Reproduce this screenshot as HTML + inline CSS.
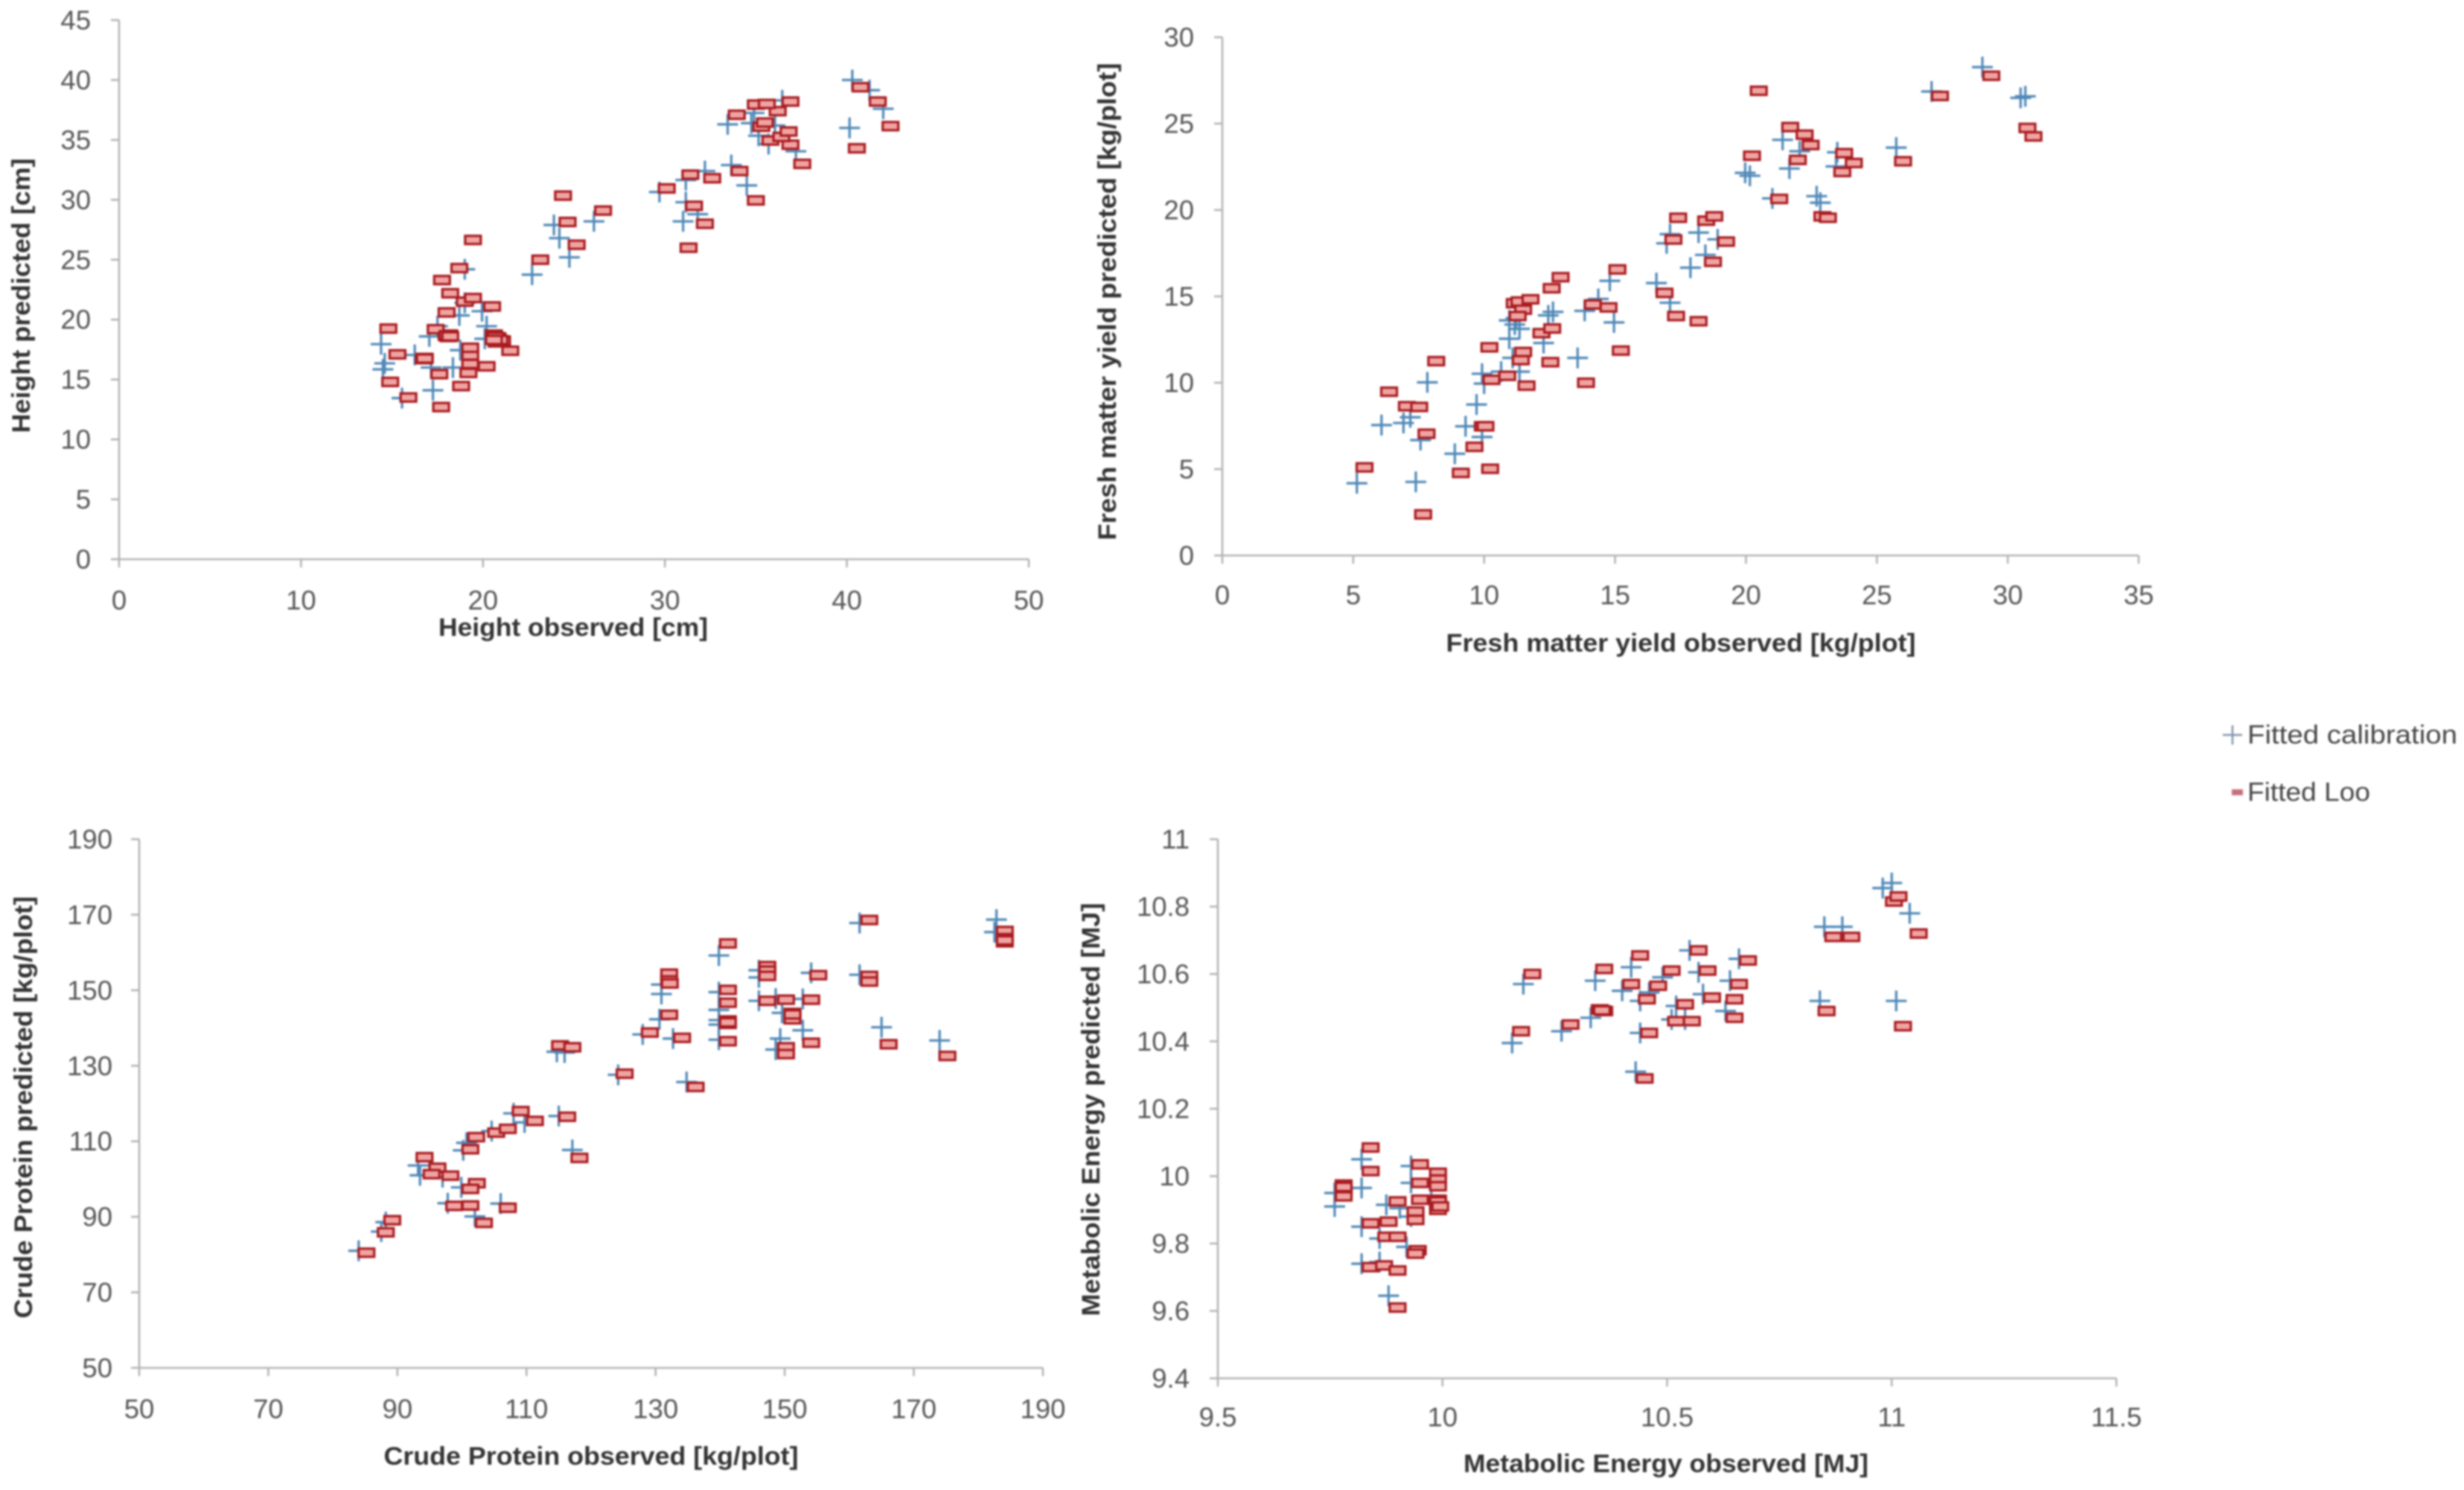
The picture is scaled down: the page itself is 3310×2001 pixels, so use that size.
<!DOCTYPE html>
<html lang="en">
<head>
<meta charset="utf-8">
<title>Observed versus predicted scatter charts</title>
<style>
html,body{margin:0;padding:0;background:#fff;}
svg{display:block;filter:blur(1.3px);}
text{font-family:"Liberation Sans",sans-serif;}
.tick{font-size:36.5px;fill:#555555;}
.title{font-size:34px;font-weight:bold;fill:#333333;}
.legend{font-size:35px;fill:#454545;}
</style>
</head>
<body>
<svg id="figure" xmlns="http://www.w3.org/2000/svg" width="3310" height="2001" viewBox="0 0 3310 2001">
  <rect x="0" y="0" width="3310" height="2001" fill="#ffffff"/>
  <g id="chart-height"></g>
  <g id="chart-fresh"></g>
  <g id="chart-protein"></g>
  <g id="chart-energy"></g>

  <text class="title" x="770" y="843" text-anchor="middle" dominant-baseline="central" textLength="362" lengthAdjust="spacingAndGlyphs">Height observed [cm]</text>
  <text class="title" transform="translate(29,397) rotate(-90)" text-anchor="middle" dominant-baseline="central" textLength="369" lengthAdjust="spacingAndGlyphs">Height predicted [cm]</text>

  <text class="title" x="2258" y="864" text-anchor="middle" dominant-baseline="central" textLength="631" lengthAdjust="spacingAndGlyphs">Fresh matter yield observed [kg/plot]</text>
  <text class="title" transform="translate(1488,405) rotate(-90)" text-anchor="middle" dominant-baseline="central" textLength="641" lengthAdjust="spacingAndGlyphs">Fresh matter yield predicted [kg/plot]</text>

  <text class="title" x="794" y="1956" text-anchor="middle" dominant-baseline="central" textLength="557" lengthAdjust="spacingAndGlyphs">Crude Protein observed [kg/plot]</text>
  <text class="title" transform="translate(32,1487) rotate(-90)" text-anchor="middle" dominant-baseline="central" textLength="567" lengthAdjust="spacingAndGlyphs">Crude Protein predicted [kg/plot]</text>

  <text class="title" x="2238" y="1966" text-anchor="middle" dominant-baseline="central" textLength="544" lengthAdjust="spacingAndGlyphs">Metabolic Energy observed [MJ]</text>
  <text class="title" transform="translate(1466,1490) rotate(-90)" text-anchor="middle" dominant-baseline="central" textLength="555" lengthAdjust="spacingAndGlyphs">Metabolic Energy predicted [MJ]</text>

  <g>
    <g>
      <path d="M2986 987H3012M2999 974V1000" stroke="#7f93ad" stroke-width="2.5" fill="none"/>
      <text class="legend" x="3019" y="987" dominant-baseline="central" textLength="282" lengthAdjust="spacingAndGlyphs">Fitted calibration</text>
    </g>
    <g>
      <rect x="2998" y="1060" width="15" height="8" fill="#c8707c"/>
      <text class="legend" x="3019" y="1064" dominant-baseline="central" textLength="165" lengthAdjust="spacingAndGlyphs">Fitted Loo</text>
    </g>
  </g>
</svg>
<script>
// Height chart
const heightXTicks = [0,10,20,30,40,50];
const heightYTicks = [0,5,10,15,20,25,30,35,40,45];
const heightCalObserved = [14.4,14.6,14.5,15.55,17.25,16.25,17.05,17.15,17.5,18.35,18.75,18.7,19.0,20.2,19.95,20.1,19.0,22.7,24.75,24.2,23.9,26.1,29.7,31.0,31.15,31.8,31.15,32.2,33.65,34.5,33.45,34.9,34.75,35.15,36.05,36.45,37.2,40.15,40.3,41.25,42.0,35.7];
const heightCalPredicted = [17.95,16.35,15.85,13.45,14.1,17.05,18.6,16.0,19.45,16.0,17.45,20.35,21.4,19.45,20.7,18.4,24.2,23.75,25.2,26.8,27.9,28.2,30.65,28.2,29.8,28.8,31.65,32.4,32.9,31.2,36.3,37.25,36.4,35.35,36.2,38.3,34.05,36.0,40.0,39.15,37.6,34.65];
const heightLooObserved = [14.8,15.3,14.9,15.9,17.7,16.75,16.8,17.6,18.8,19.2,20.2,19.3,19.3,19.3,21.5,20.7,20.6,21.05,20.8,20.75,18.0,18.15,18.1,17.4,18.0,20.5,19.0,19.45,18.2,17.75,18.7,19.45,23.15,25.15,24.65,26.6,24.4,30.1,31.3,32.2,31.6,31.4,32.6,34.1,35.0,37.55,36.9,35.8,36.4,36.8,35.3,35.5,36.2,33.95,35.0,35.6,36.9,40.55,42.4,41.7,40.75,18.05,18.2,20.7,20.9,20.6,16.8];
const heightLooPredicted = [19.25,17.1,14.8,13.5,12.7,16.7,16.8,15.45,14.45,15.55,16.1,16.3,17.0,17.65,17.4,18.35,18.75,18.25,18.5,18.1,18.65,18.75,18.55,19.2,20.6,21.1,21.5,21.8,22.2,23.3,24.3,26.65,25.0,26.25,28.15,29.1,30.35,30.95,26.0,28.0,29.5,32.1,31.8,32.4,29.95,33.0,34.6,34.95,35.25,35.7,36.1,36.45,37.4,37.1,37.95,38.0,38.2,34.3,36.15,38.2,39.4,18.7,18.6,18.55,18.3,18.3,16.75];

// Fresh matter chart
const freshXTicks = [0,5,10,15,20,25,30,35];
const freshYTicks = [0,5,10,15,20,25,30];
const freshCalObserved = [5.14,6.08,6.92,7.18,7.39,7.57,7.83,8.88,9.29,9.71,9.92,9.92,10.0,10.65,11.09,11.35,10.96,10.96,11.17,11.35,11.22,12.27,12.45,12.63,13.84,13.57,14.36,14.8,14.96,16.58,17.1,16.97,17.1,17.88,18.19,18.45,18.92,19.97,20.15,21.01,21.4,21.66,22.05,22.7,22.84,23.49,23.44,25.74,27.09,29.03,30.49,30.67];
const freshCalPredicted = [4.18,7.55,7.67,8.0,4.26,6.68,10.02,5.89,7.48,8.74,6.86,10.52,9.95,10.64,11.44,10.64,12.55,13.61,13.37,13.12,13.74,12.3,13.9,14.1,14.16,11.44,14.85,15.9,13.49,15.77,14.63,18.07,18.6,16.66,18.69,17.4,18.3,22.15,21.98,20.67,24.06,22.4,23.4,20.8,20.42,23.34,22.52,23.61,26.86,28.27,26.49,26.58];
const freshLooObserved = [5.43,6.37,7.05,7.52,7.8,8.17,7.67,9.11,9.63,9.95,10.05,10.23,10.2,10.28,10.88,11.62,11.4,11.49,11.17,11.49,11.28,11.35,11.77,12.19,12.6,12.53,12.58,12.92,13.89,14.15,14.75,15.09,15.22,16.89,17.23,17.33,17.41,18.19,18.48,18.79,18.74,19.24,20.23,20.49,21.27,21.69,21.98,22.24,22.47,22.92,23.13,23.68,23.75,24.12,26.0,27.41,29.37,30.75,30.98];
const freshLooPredicted = [5.1,9.48,8.64,8.6,7.05,11.25,2.38,4.78,6.29,7.48,7.48,5.02,12.05,10.17,10.4,9.83,11.31,11.78,14.6,14.23,13.86,14.7,14.83,12.87,13.14,11.19,15.47,16.11,10.0,14.53,14.36,16.56,11.86,15.2,18.29,13.86,19.55,13.56,19.38,19.63,17.0,18.17,23.14,26.9,20.64,24.8,22.9,24.36,23.76,19.63,19.55,22.2,23.29,22.72,22.82,26.6,27.77,24.75,24.26];

// Crude protein chart
const proteinXTicks = [50,70,90,110,130,150,170,190];
const proteinYTicks = [50,70,90,110,130,150,170,190];
const proteinCalObserved = [84,87.5,88.2,93.2,93.5,97,97.8,99.9,100.2,100.7,102,106,104.6,108,109.7,115,117.1,114.7,115.9,124.2,128,130.6,130.9,130.9,132.7,134.8,139.8,139.8,139.8,139.8,139.8,139.8,146,146,146,148.6,149.3,148.6,149.6,152.8,152.8,154.1,161.6,161.6,165,174,182.8,182.5];
const proteinCalPredicted = [81,86.1,88.6,103.6,101,100.5,93.6,97.8,107.6,109.6,90.1,93.5,112.7,117.4,115,116.7,107.7,133.7,133.5,127.6,138.3,142.3,151.5,149,137.2,125.7,159.2,149.5,144.8,142.1,140.9,136.9,155.3,153.4,147.2,147.8,137.2,134.3,144,139.4,147.7,154.6,167.8,154.1,140.2,136.7,168.7,165.4];
const proteinLooObserved = [85.2,88.2,89.2,94.2,96.2,95.3,98.2,98.8,101.3,103.4,107.1,102.3,101.3,101.3,102.2,105.3,107.1,109.1,111.3,116.3,118.2,115.2,117.1,125.2,129.1,132.1,132.1,132.1,132.2,134.1,136.2,141.2,141.2,141.2,141.2,141.2,141.2,147.3,147.3,147.3,147.3,150.2,151.2,151.2,151.2,150.2,150.2,154.1,154.1,155.2,163.1,163.1,163.1,166.1,175.2,184.1,184.1,184.1,151.2,141.2,184.1];
const proteinLooPredicted = [80.5,85.9,89.1,105.8,103,101.3,100.9,92.9,93,88.4,92.4,98.9,97.4,107.9,111.1,112.3,113.3,118,115.4,116.5,105.6,135.4,134.9,127.9,138.8,143.5,154.4,152.6,151.8,137.4,124.4,162.4,150.1,146.7,142,141.1,136.5,156.4,155.2,153.8,147.2,147.5,144,143.2,142.3,134.9,133.1,147.5,136.1,154,168.6,153.8,152.3,135.7,132.6,165.7,163.8,162.7,143.6,141.5,163.2];

// Metabolic energy chart
const energyXTicks = [9.5,10,10.5,11,11.5];
const energyYTicks = [9.4,9.6,9.8,10,10.2,10.4,10.6,10.8,11];
const energyCalObserved = [9.76,9.76,9.82,9.82,9.82,9.82,9.86,9.86,9.875,9.88,9.905,9.92,9.93,9.93,9.93,9.975,9.98,10.155,10.18,10.265,10.33,10.34,10.4,10.42,10.44,10.44,10.43,10.46,10.49,10.51,10.52,10.54,10.55,10.57,10.58,10.63,10.64,10.66,10.84,10.85,10.89,10.98,11.0,11.01,11.04];
const energyCalPredicted = [9.91,9.95,9.965,10.05,9.85,9.74,9.745,9.815,9.915,9.645,9.905,9.79,10.03,9.98,9.88,9.925,9.99,10.395,10.57,10.43,10.47,10.58,10.55,10.62,10.52,10.425,10.31,10.545,10.59,10.465,10.505,10.465,10.67,10.605,10.54,10.49,10.58,10.645,10.52,10.74,10.74,10.855,10.87,10.52,10.78];
const energyLooObserved = [9.78,9.78,9.78,9.78,9.84,9.84,9.84,9.84,9.88,9.875,9.9,9.87,9.9,9.9,9.9,9.94,9.94,9.945,9.94,9.95,9.95,9.95,9.99,9.99,9.99,9.99,9.99,9.99,10.175,10.2,10.285,10.35,10.36,10.36,10.42,10.44,10.455,10.46,10.45,10.48,10.51,10.52,10.54,10.555,10.57,10.59,10.6,10.65,10.65,10.66,10.68,10.855,10.87,10.91,11.005,11.015,11.025,11.06,9.99,9.995,9.78,10.355];
const energyLooPredicted = [9.975,9.96,9.95,9.94,10.085,10.015,9.86,9.73,9.865,9.82,9.82,9.735,9.72,9.61,9.925,9.895,9.87,9.78,9.77,10.035,9.98,9.93,10.01,9.99,9.97,9.93,9.92,9.9,10.43,10.6,10.45,10.495,10.49,10.615,10.57,10.655,10.525,10.425,10.29,10.565,10.61,10.46,10.51,10.46,10.67,10.61,10.53,10.525,10.47,10.57,10.64,10.49,10.71,10.71,10.815,10.83,10.445,10.72,9.925,9.91,9.968,10.492];

const SVG_NS = 'http://www.w3.org/2000/svg';

function make(parent, tag, attrs) {
  const el = document.createElementNS(SVG_NS, tag);
  for (const key in attrs) el.setAttribute(key, attrs[key]);
  parent.appendChild(el);
  return el;
}

function linearScale(domainMin, domainMax, pixelMin, pixelMax) {
  return function (value) {
    return pixelMin + (value - domainMin) * (pixelMax - pixelMin) / (domainMax - domainMin);
  };
}

function drawAxes(group, xScale, yScale, xTicks, yTicks, frame) {
  const axisStyle = {stroke: '#b4b4b4', 'stroke-width': 2.6, fill: 'none'};
  const xAxis = make(group, 'line', Object.assign({x1: xScale(xTicks[0]), x2: xScale(xTicks[xTicks.length - 1]), y1: yScale(yTicks[0]), y2: yScale(yTicks[0])}, axisStyle));
  
  
  const yAxis = make(group, 'line', Object.assign({x1: xScale(xTicks[0]), x2: xScale(xTicks[0]), y1: yScale(yTicks[0]), y2: yScale(yTicks[yTicks.length - 1])}, axisStyle));
  
  

  xTicks.forEach(function (tick) {
    const mark = make(group, 'line', Object.assign({x1: xScale(tick), x2: xScale(tick), y1: yScale(yTicks[0]), y2: yScale(yTicks[0]) + 11}, axisStyle));
    
    
    const label = make(group, 'text', {class: 'tick', x: xScale(tick), y: frame.xLabelY, 'text-anchor': 'middle', 'dominant-baseline': 'central'});
    
    
    label.textContent = String(tick);
  });

  yTicks.forEach(function (tick) {
    const mark = make(group, 'line', Object.assign({x1: xScale(xTicks[0]) - 11, x2: xScale(xTicks[0]), y1: yScale(tick), y2: yScale(tick)}, axisStyle));
    
    
    const label = make(group, 'text', {class: 'tick', x: frame.yLabelX, y: yScale(tick), 'text-anchor': 'end', 'dominant-baseline': 'central'});
    
    
    label.textContent = String(tick);
  });
}

function drawCalibration(group, xScale, yScale, xs, ys) {
  xs.forEach(function (value, i) {
    const cx = xScale(value);
    const cy = yScale(ys[i]);
    const plus = make(group, 'path', {d: 'M' + (cx - 14) + ' ' + cy + 'H' + (cx + 14) + 'M' + cx + ' ' + (cy - 14) + 'V' + (cy + 14), stroke: '#4f88b8', 'stroke-width': 3.2, fill: 'none'});
    
    
  });
}

function drawLoo(group, xScale, yScale, xs, ys) {
  xs.forEach(function (value, i) {
    const cx = xScale(value);
    const cy = yScale(ys[i]);
    const box = make(group, 'rect', {x: cx - 10.5, y: cy - 5.5, width: 21, height: 11, fill: '#f0a4a2', stroke: '#a81a1f', 'stroke-width': 3.2});
    
    
  });
}

function drawChart(id, frame, xTicks, yTicks, calX, calY, looX, looY) {
  const group = document.getElementById(id);
  const xScale = linearScale(xTicks[0], xTicks[xTicks.length - 1], frame.left, frame.right);
  const yScale = linearScale(yTicks[0], yTicks[yTicks.length - 1], frame.bottom, frame.top);
  drawAxes(group, xScale, yScale, xTicks, yTicks, frame);
  drawCalibration(group, xScale, yScale, calX, calY);
  drawLoo(group, xScale, yScale, looX, looY);
}

drawChart('chart-height', {left: 160, right: 1382, top: 27, bottom: 751, xLabelY: 806, yLabelX: 122}, heightXTicks, heightYTicks, heightCalObserved, heightCalPredicted, heightLooObserved, heightLooPredicted);
drawChart('chart-fresh', {left: 1642, right: 2873, top: 50, bottom: 746, xLabelY: 799, yLabelX: 1604}, freshXTicks, freshYTicks, freshCalObserved, freshCalPredicted, freshLooObserved, freshLooPredicted);
drawChart('chart-protein', {left: 187, right: 1401, top: 1127, bottom: 1837, xLabelY: 1892, yLabelX: 151}, proteinXTicks, proteinYTicks, proteinCalObserved, proteinCalPredicted, proteinLooObserved, proteinLooPredicted);
drawChart('chart-energy', {left: 1636, right: 2843, top: 1127, bottom: 1851, xLabelY: 1903, yLabelX: 1598}, energyXTicks, energyYTicks, energyCalObserved, energyCalPredicted, energyLooObserved, energyLooPredicted);
</script>
</body>
</html>
